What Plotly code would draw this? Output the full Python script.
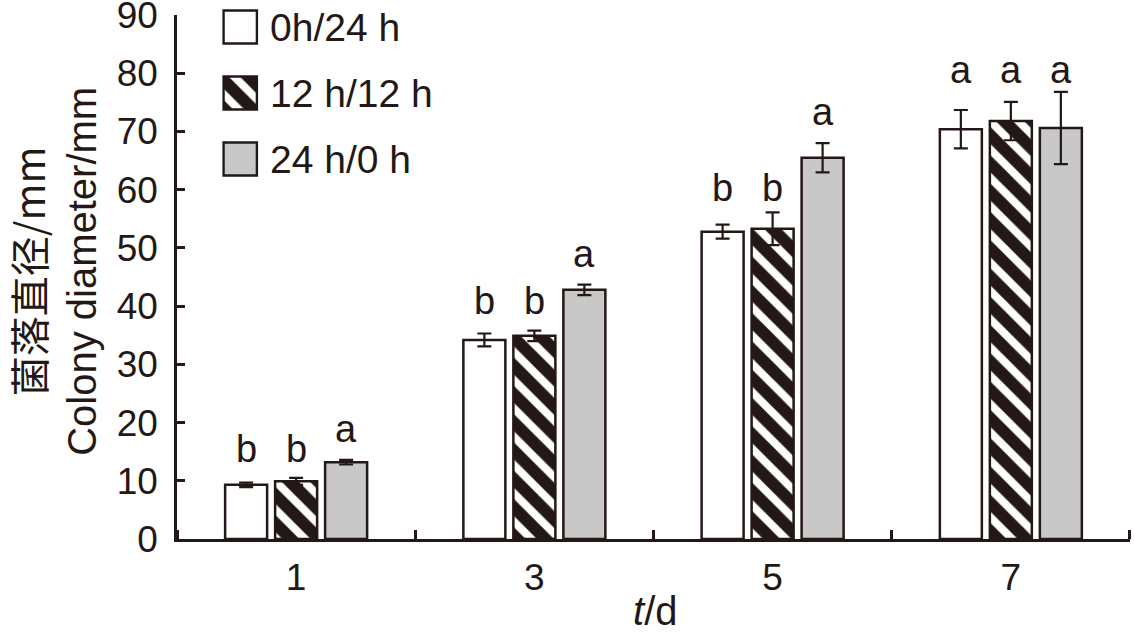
import plotly.graph_objects as go

# Colony diameter (mm) by day, three light/dark regimes
days = ["1", "3", "5", "7"]
series_names = ["0h/24 h", "12 h/12 h", "24 h/0 h"]

white_mean = [9.3, 34.2, 52.8, 70.4]
white_err = [0.4, 1.1, 1.2, 3.3]
hatched_mean = [9.9, 34.9, 53.3, 71.8]
hatched_err = [0.6, 0.9, 2.8, 3.3]
gray_mean = [13.2, 42.8, 65.5, 70.6]
gray_err = [0.4, 0.9, 2.5, 6.2]

white_letters = ["b", "b", "b", "a"]
hatched_letters = ["b", "b", "b", "a"]
gray_letters = ["a", "a", "a", "a"]

y_ticks = [0, 10, 20, 30, 40, 50, 60, 70, 80, 90]

ink = "#231815"
gray_fill = "#c8c8c8"
font_family = "Liberation Sans, Arial, sans-serif"

means = [white_mean, hatched_mean, gray_mean]
errs = [white_err, hatched_err, gray_err]
letters = [white_letters, hatched_letters, gray_letters]
positions = list(range(len(days)))  # bar groups sit at 0..3 on a linear axis

fill_colors = ["white", ink, gray_fill]
hatch = dict(shape="\\", bgcolor=ink, fgcolor="white", fgopacity=1, size=20, solidity=0.4)
patterns = [dict(shape=""), hatch, dict(shape="")]

fig = go.Figure()

# Main bars with error bars
for i in range(3):
    fig.add_trace(
        go.Bar(
            x=positions,
            y=means[i],
            name=series_names[i],
            marker=dict(
                color=fill_colors[i],
                line=dict(color=ink, width=2.5),
                pattern=patterns[i],
            ),
            error_y=dict(
                type="data",
                array=errs[i],
                color=ink,
                thickness=2.2,
                width=7,
            ),
            showlegend=False,
        )
    )

# Hand-made legend: one horizontal bar per series on a tiny hidden axis
fig.add_trace(
    go.Bar(
        x=[1, 1, 1],
        y=[2, 1, 0],
        orientation="h",
        width=0.5,
        marker=dict(
            color=fill_colors,
            line=dict(color=ink, width=2.5),
            pattern=dict(
                shape=["", "\\", ""],
                bgcolor=["white", ink, gray_fill],
                fgcolor=["white", "white", gray_fill],
                fgopacity=1,
                size=20,
                solidity=0.4,
            ),
        ),
        xaxis="x2",
        yaxis="y2",
        showlegend=False,
        hoverinfo="skip",
    )
)

annotations = []

# Significance letters above error bars (same letters in a group share one height)
for g in positions:
    tops = [means[i][g] + errs[i][g] for i in range(3)]
    for i in range(3):
        same = [tops[k] for k in range(3) if letters[k][g] == letters[i][g]]
        annotations.append(
            dict(
                x=g,
                y=sum(same) / len(same),
                xref="x",
                yref="y",
                text=letters[i][g],
                showarrow=False,
                xanchor="center",
                xshift=(i - 1) * 50,
                yanchor="bottom",
                yshift=8,
                font=dict(size=38, color=ink, family=font_family),
            )
        )

# Legend labels
for i, name in enumerate(series_names):
    annotations.append(
        dict(
            x=0.0955,
            y=2 - i,
            xref="paper",
            yref="y2",
            text=name,
            showarrow=False,
            xanchor="left",
            yanchor="middle",
            font=dict(size=39, color=ink, family=font_family),
        )
    )

# Axis titles
annotations.append(
    dict(
        x=-0.157,
        y=0.505,
        xref="paper",
        yref="paper",
        text="菌落直径/mm",
        textangle=-90,
        showarrow=False,
        xanchor="center",
        yanchor="middle",
        font=dict(size=40, color=ink, family="Noto Sans CJK SC, Liberation Sans, sans-serif"),
    )
)
annotations.append(
    dict(
        x=-0.0997,
        y=0.505,
        xref="paper",
        yref="paper",
        text="Colony diameter/mm",
        textangle=-90,
        showarrow=False,
        xanchor="center",
        yanchor="middle",
        font=dict(size=40, color=ink, family=font_family),
    )
)
annotations.append(
    dict(
        x=0.5016,
        y=-0.1356,
        xref="paper",
        yref="paper",
        text="<i>t</i>/d",
        showarrow=False,
        xanchor="center",
        yanchor="middle",
        font=dict(size=40, color=ink, family=font_family),
    )
)

fig.update_layout(
    width=1134,
    height=632,
    margin=dict(l=177, r=4, t=8, b=93),
    paper_bgcolor="white",
    plot_bgcolor="white",
    barmode="group",
    bargap=0.3704,
    bargroupgap=0.16,
    font=dict(family=font_family, color=ink),
    annotations=annotations,
    xaxis=dict(
        range=[-0.5, 3.5001],
        domain=[0, 1],
        tickvals=positions,
        ticktext=days,
        ticks="",
        showline=True,
        linecolor=ink,
        linewidth=2.5,
        minor=dict(
            tick0=0.5,
            dtick=1,
            ticks="inside",
            ticklen=9,
            tickwidth=2.5,
            tickcolor=ink,
            showgrid=False,
        ),
        showgrid=False,
        zeroline=False,
        automargin=False,
        tickfont=dict(size=37, color=ink),
        ticklabelstandoff=4,
    ),
    yaxis=dict(
        range=[0, 90.02],
        domain=[0, 0.98684],
        tickvals=y_ticks,
        showline=True,
        linecolor=ink,
        linewidth=2.5,
        ticks="inside",
        ticklen=8,
        tickwidth=2.5,
        tickcolor=ink,
        showgrid=False,
        zeroline=False,
        automargin=False,
        tickfont=dict(size=37, color=ink),
        ticklabelstandoff=9,
        ticklabeloverflow="allow",
    ),
    xaxis2=dict(
        domain=[0.0474, 0.0853],
        range=[-0.04, 1.04],
        anchor="y2",
        visible=False,
        fixedrange=True,
    ),
    yaxis2=dict(
        domain=[0.6384, 1],
        range=[-0.621, 2.288],
        anchor="x2",
        visible=False,
        fixedrange=True,
    ),
)

# drop the page's default 8px body margin so the figure fills the window
fig.write_html(
    "out.html",
    config={"displayModeBar": False},
    post_script="document.body.style.margin = '0';",
)
